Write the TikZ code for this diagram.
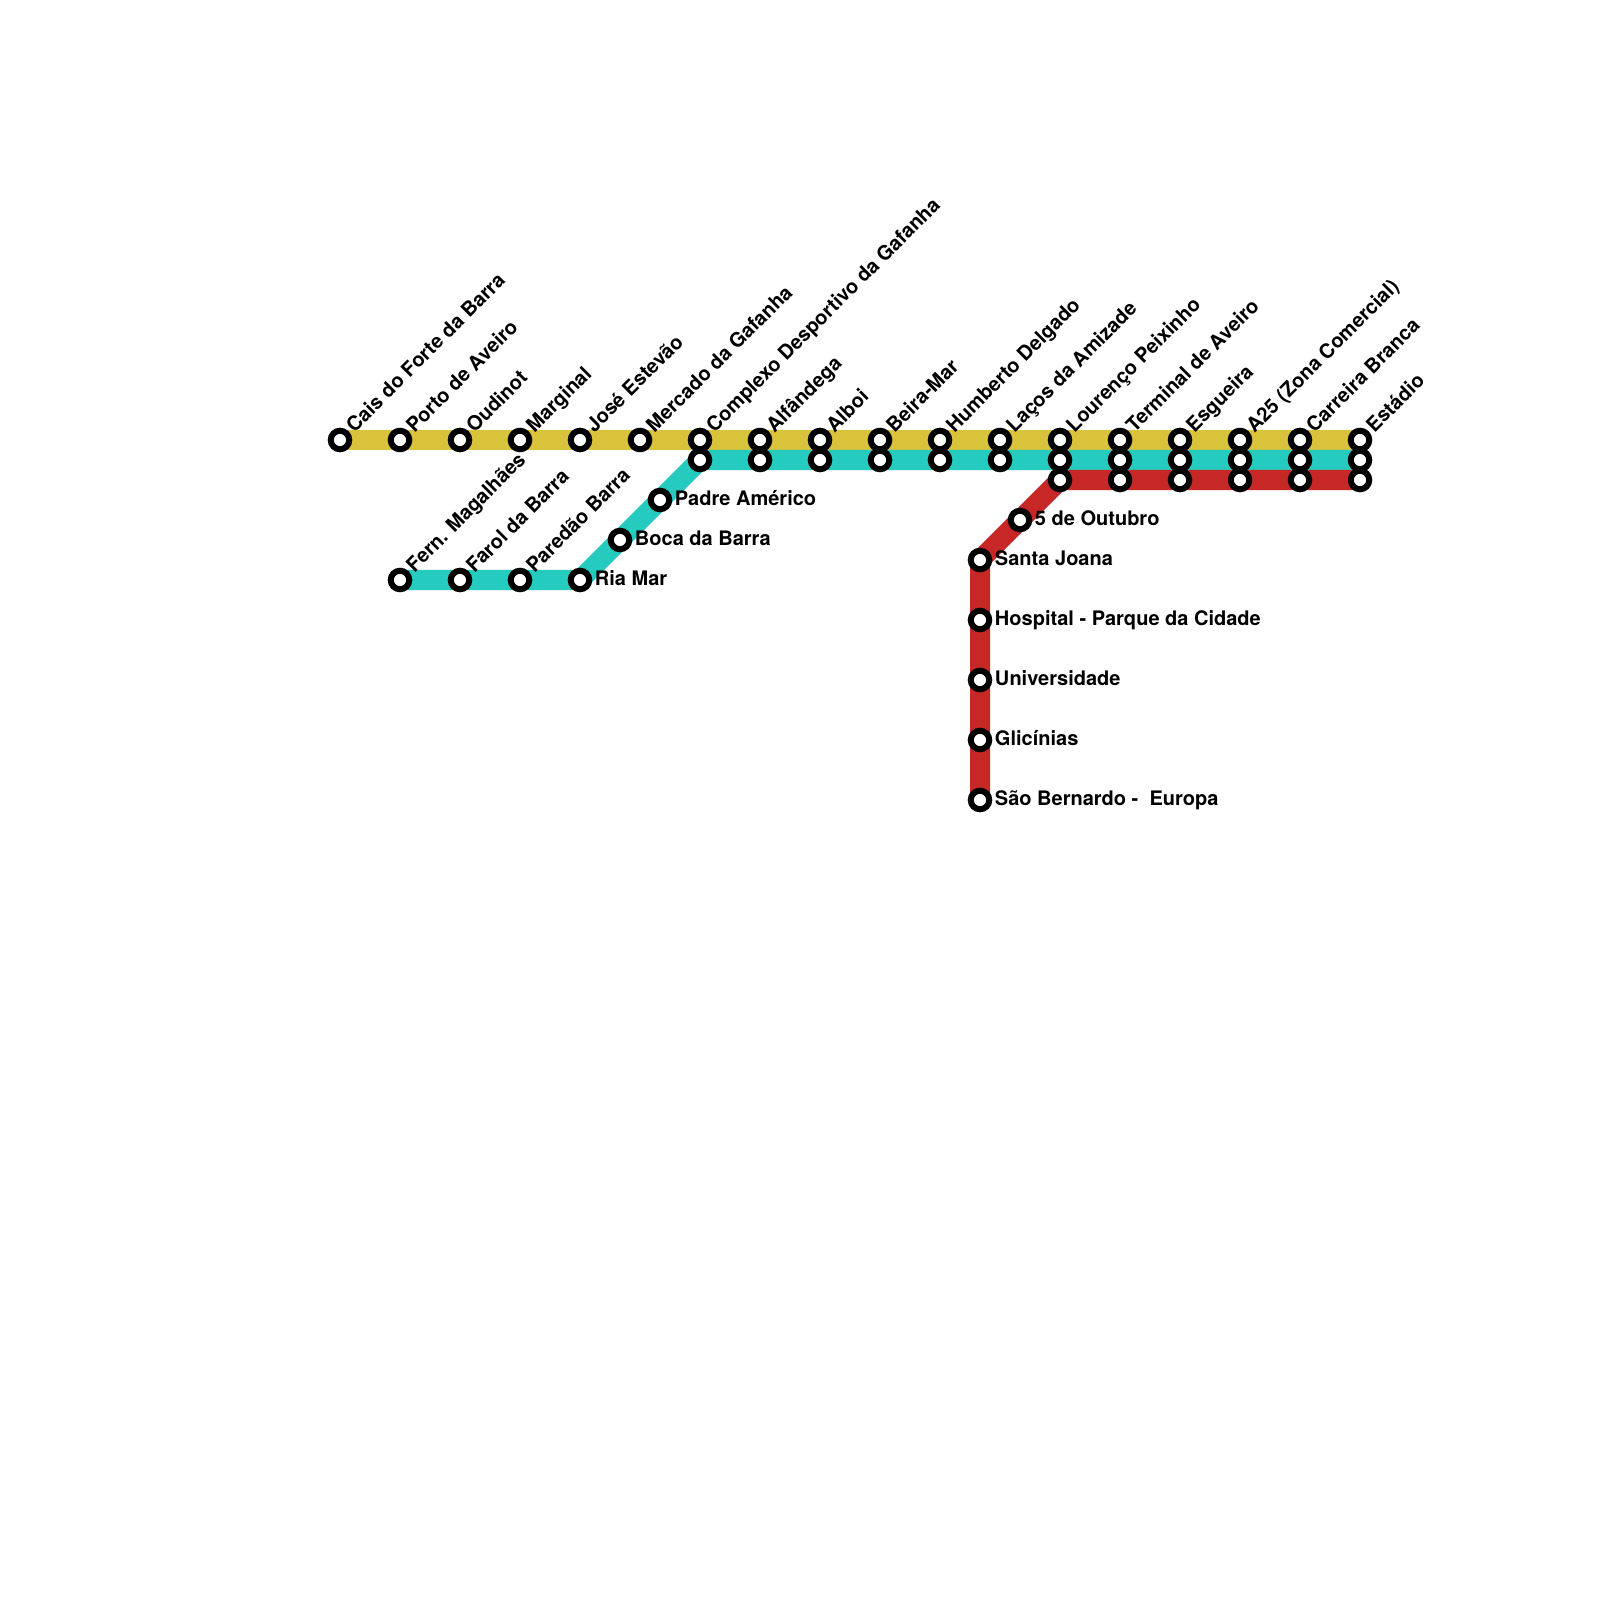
\documentclass[tikz,border=0pt]{standalone}
\usepackage{fontspec}
\setmainfont{TeX Gyre Heros}
\usetikzlibrary{backgrounds}
\definecolor{gold}{HTML}{D8C33A}
\definecolor{teal}{HTML}{26CBBF}
\definecolor{crimson}{HTML}{C72825}
\tikzset{
  stop/.style={circle,fill=white,draw=black,line width=0.06cm,minimum size=0.185cm,inner sep=0pt,outer sep=0pt},
  uptext/.style={rotate=45,anchor=base west,font=\bfseries\fontsize{5.69pt}{6.5pt}\selectfont,inner sep=0pt,label distance=0pt,xshift=0.05cm,yshift=-0.056cm},
  sidetext/.style={anchor=base west,font=\bfseries\fontsize{5.69pt}{6.5pt}\selectfont,inner sep=0pt,label distance=0.05cm,yshift=-0.05cm},
  lineband/.style={line width=0.2cm}
}
\begin{document}
\begin{tikzpicture}[x=0.01cm,y=-0.01cm]
      \useasboundingbox (0,0) rectangle (1600,1600);
      % gold line
      \node[stop,label={[uptext]45:Cais do Forte da Barra}] (cais) at (340,440) {};
      \node[stop,label={[uptext]45:Porto de Aveiro}] (porto) at (400,440) {};
      \node[stop,label={[uptext]45:Oudinot}] (oudinot) at (460,440) {};
      \node[stop,label={[uptext]45:Marginal}] (marginal) at (520,440) {};
      \node[stop,label={[uptext]45:José Estevão}] (jose) at (580,440) {};
      \node[stop,label={[uptext]45:Mercado da Gafanha}] (mercado) at (640,440) {};
      \node[stop,label={[uptext]45:Complexo Desportivo da Gafanha}] (complexo) at (700,440) {};
      \node[stop,label={[uptext]45:Alfândega}] (alfandega) at (760,440) {};
      \node[stop,label={[uptext]45:Alboi}] (alboi) at (820,440) {};
      \node[stop,label={[uptext]45:Beira-Mar}] (beira) at (880,440) {};
      \node[stop,label={[uptext]45:Humberto Delgado}] (humberto) at (940,440) {};
      \node[stop,label={[uptext]45:Laços da Amizade}] (lacos) at (1000,440) {};
      \node[stop,label={[uptext]45:Lourenço Peixinho}] (lourenco) at (1060,440) {};
      \node[stop,label={[uptext]45:Terminal de Aveiro}] (terminal) at (1120,440) {};
      \node[stop,label={[uptext]45:Esgueira}] (esgueira) at (1180,440) {};
      \node[stop,label={[uptext]45:A25 (Zona Comercial)}] (azona) at (1240,440) {};
      \node[stop,label={[uptext]45:Carreira Branca}] (carreira) at (1300,440) {};
      \node[stop,label={[uptext]45:Estádio}] (estadio) at (1360,440) {};
      % teal line
      \node[stop,label={[uptext]45:Fern. Magalhães}] (fern) at (400,580) {};
      \node[stop,label={[uptext]45:Farol da Barra}] (farol) at (460,580) {};
      \node[stop,label={[uptext]45:Paredão Barra}] (paredao) at (520,580) {};
      \node[stop,label={[sidetext]0:Ria Mar}] (ria) at (580,580) {};
      \node[stop,label={[sidetext]0:Boca da Barra}] (boca) at (620,540) {};
      \node[stop,label={[sidetext]0:Padre Américo}] (padre) at (660,500) {};
      \node[stop] (tcomplexo) at (700,460) {};
      \node[stop] (talfandega) at (760,460) {};
      \node[stop] (talboi) at (820,460) {};
      \node[stop] (tbeira) at (880,460) {};
      \node[stop] (thumberto) at (940,460) {};
      \node[stop] (tlacos) at (1000,460) {};
      \node[stop] (tlourenco) at (1060,460) {};
      \node[stop] (tterminal) at (1120,460) {};
      \node[stop] (tesgueira) at (1180,460) {};
      \node[stop] (tazona) at (1240,460) {};
      \node[stop] (tcarreira) at (1300,460) {};
      \node[stop] (testadio) at (1360,460) {};
      % red line
      \node[stop] (rlourenco) at (1060,480) {};
      \node[stop] (rterminal) at (1120,480) {};
      \node[stop] (resgueira) at (1180,480) {};
      \node[stop] (razona) at (1240,480) {};
      \node[stop] (rcarreira) at (1300,480) {};
      \node[stop] (restadio) at (1360,480) {};
      \node[stop,label={[sidetext]0:5 de Outubro}] (outubro) at (1020,520) {};
      \node[stop,label={[sidetext]0:Santa Joana}] (santa) at (980,560) {};
      \node[stop,label={[sidetext]0:Hospital - Parque da Cidade}] (hospital) at (980,620) {};
      \node[stop,label={[sidetext]0:Universidade}] (universidade) at (980,680) {};
      \node[stop,label={[sidetext]0:Glicínias}] (glicinias) at (980,740) {};
      \node[stop,label={[sidetext]0:São Bernardo -~ Europa}] (bernardo) at (980,800) {};
      \begin{scope}[on background layer]
        \draw[lineband,gold] (cais.center) -- (estadio.center);
        \draw[lineband,teal] (fern.center) -- (ria.center) -- (tcomplexo.center) -- (testadio.center);
        \draw[lineband,crimson] (restadio.center) -- (rlourenco.center) -- (santa.center) -- (bernardo.center);
      \end{scope}
    \end{tikzpicture}
\end{document}
